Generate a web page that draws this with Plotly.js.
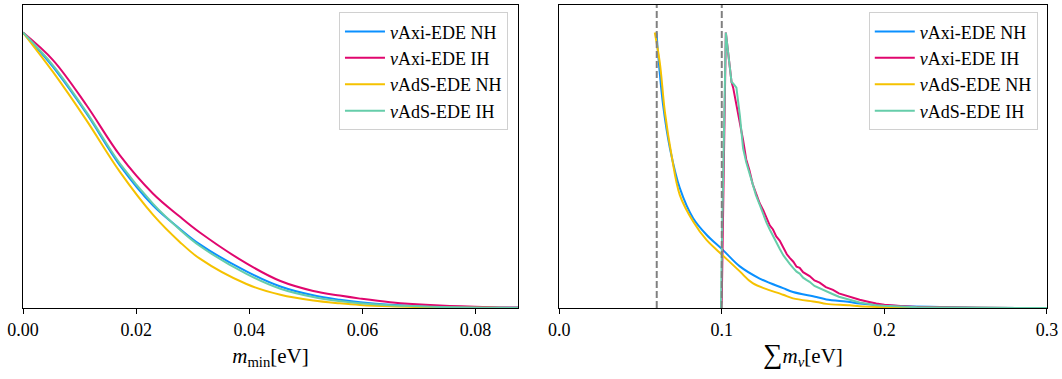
<!DOCTYPE html>
<html>
<head>
<meta charset="utf-8">
<script src="https://cdn.plot.ly/plotly-3.0.1.min.js"></script>
<style>html,body{margin:0;padding:0;background:#fff;}#chart{width:1062px;height:379px;}</style>
</head>
<body>
<div id="chart"></div>
<script>
// ---------- data ----------
const seriesNames = ["<i>ν</i>Axi-EDE NH", "<i>ν</i>Axi-EDE IH", "<i>ν</i>AdS-EDE NH", "<i>ν</i>AdS-EDE IH"];
const seriesColors = ["#0a90ff", "#e0066e", "#f5c200", "#66cdaa"];

// left panel: m_min [eV]
const mminX     = [0, 0.0053, 0.0112, 0.0171, 0.0230, 0.0277, 0.0312, 0.0395, 0.0455, 0.0513, 0.0560, 0.0596, 0.0649, 0.0737, 0.0826, 0.0875];
const mminAxiNH = [1.0, 0.875, 0.707, 0.519, 0.372, 0.288, 0.232, 0.133, 0.078, 0.046, 0.030, 0.021, 0.012, 0.005, 0.0015, 0.0008];
const mminAxiIH = [1.0, 0.900, 0.737, 0.555, 0.415, 0.332, 0.275, 0.162, 0.098, 0.062, 0.045, 0.034, 0.021, 0.009, 0.003, 0.0015];
const mminAdSNH = [1.0, 0.857, 0.682, 0.495, 0.338, 0.240, 0.180, 0.087, 0.048, 0.027, 0.017, 0.011, 0.006, 0.002, 0.0006, 0.0002];
const mminAdSIH = [1.0, 0.881, 0.712, 0.525, 0.378, 0.285, 0.226, 0.124, 0.070, 0.040, 0.025, 0.017, 0.010, 0.004, 0.001, 0.0005];

// right panel: sum m_nu [eV], normal hierarchy
const sumXAxiNH = [0.0599, 0.0609, 0.0639, 0.0681, 0.0742, 0.0824, 0.0906, 0.1008, 0.1111, 0.1233, 0.1377, 0.1438, 0.1582, 0.1643, 0.1786, 0.1847, 0.2052, 0.25, 0.3];
const sumAxiNH  = [1.0, 0.918, 0.737, 0.580, 0.435, 0.326, 0.266, 0.210, 0.151, 0.107, 0.072, 0.058, 0.040, 0.031, 0.022, 0.016, 0.008, 0.002, 0.0];
const sumXAdSNH = [0.0588, 0.0619, 0.0650, 0.0691, 0.0742, 0.0824, 0.0906, 0.1008, 0.1111, 0.1190, 0.1377, 0.1438, 0.1582, 0.1643, 0.1786, 0.1847, 0.2000, 0.2200, 0.3];
const sumAdSNH  = [1.0, 0.890, 0.712, 0.555, 0.410, 0.314, 0.247, 0.190, 0.133, 0.090, 0.048, 0.035, 0.022, 0.015, 0.010, 0.006, 0.003, 0.001, 0.0];

// right panel: inverted hierarchy
const sumXIH = [0.0995, 0.1000, 0.1025, 0.1045, 0.1060, 0.1070, 0.1090, 0.1111, 0.1131, 0.1150, 0.1170, 0.1190, 0.1210, 0.1233, 0.1255, 0.1275, 0.1295, 0.1315, 0.1335, 0.1356, 0.1380, 0.1400, 0.1418, 0.1440, 0.1460, 0.1479, 0.1500, 0.1520, 0.1540, 0.1570, 0.1602, 0.1640, 0.1684, 0.1720, 0.1766, 0.1800, 0.1848, 0.1900, 0.1950, 0.2000, 0.2052, 0.2100, 0.2200, 0.2300, 0.2400, 0.2500, 0.2600, 0.3000];
const sumAxiIH = [0.0, 0.03, 1.0, 0.90, 0.82, 0.80, 0.74, 0.68, 0.61, 0.54, 0.50, 0.45, 0.42, 0.38, 0.355, 0.33, 0.30, 0.285, 0.26, 0.245, 0.215, 0.195, 0.182, 0.168, 0.150, 0.146, 0.130, 0.122, 0.116, 0.100, 0.092, 0.076, 0.066, 0.053, 0.044, 0.039, 0.030, 0.023, 0.016, 0.012, 0.009, 0.007, 0.004, 0.003, 0.002, 0.001, 0.0005, 0.0];
const sumAdSIH = [0.0, 0.20, 1.0, 0.89, 0.82, 0.815, 0.80, 0.70, 0.58, 0.53, 0.49, 0.45, 0.41, 0.375, 0.34, 0.31, 0.285, 0.26, 0.24, 0.215, 0.19, 0.172, 0.160, 0.145, 0.132, 0.125, 0.110, 0.102, 0.095, 0.080, 0.071, 0.060, 0.050, 0.041, 0.033, 0.028, 0.020, 0.015, 0.010, 0.008, 0.006, 0.005, 0.003, 0.002, 0.001, 0.001, 0.0005, 0.0];

// vertical reference lines (minimal sums NH / IH)
const thresholds = [0.06, 0.1];

// ---------- traces ----------
const FONT = "Liberation Serif, Times New Roman, serif";
function tr(x, y, i, xa, ya, leg, shape) {
  return {x: x, y: y, type: "scatter", mode: "lines", name: seriesNames[i],
    line: {color: seriesColors[i], width: 2, shape: shape},
    xaxis: xa, yaxis: ya, legend: leg, hoverinfo: "skip"};
}
const traces = [
  tr(mminX, mminAxiNH, 0, "x", "y", "legend", "spline"),
  tr(mminX, mminAxiIH, 1, "x", "y", "legend", "spline"),
  tr(mminX, mminAdSNH, 2, "x", "y", "legend", "spline"),
  tr(mminX, mminAdSIH, 3, "x", "y", "legend", "spline"),
  tr(sumXAxiNH, sumAxiNH, 0, "x2", "y2", "legend2", "spline"),
  tr(sumXIH, sumAxiIH, 1, "x2", "y2", "legend2", "linear"),
  tr(sumXAdSNH, sumAdSNH, 2, "x2", "y2", "legend2", "spline"),
  tr(sumXIH, sumAdSIH, 3, "x2", "y2", "legend2", "linear")
];

const shapes = thresholds.map(t => ({type: "line", xref: "x2", yref: "y2 domain", x0: t, x1: t, y0: 0, y1: 1,
  line: {color: "#808080", width: 2, dash: "7px,3px"}}));

const axBase = {showgrid: false, zeroline: false, showline: true, mirror: true, linecolor: "#000", linewidth: 1};
const xBase = Object.assign({}, axBase, {ticks: "outside", ticklen: 5, tickwidth: 1, tickcolor: "#000",
  tickfont: {family: FONT, size: 18, color: "#000"}, title: {standoff: 9, font: {family: FONT, size: 21, color: "#000"}}});
const yBase = Object.assign({}, axBase, {showticklabels: false, ticks: "", range: [0, 1.1]});
const legBase = {xref: "paper", yref: "paper", xanchor: "right", yanchor: "top", y: 0.976,
  bgcolor: "rgba(255,255,255,0.8)", bordercolor: "#d0d0d0", borderwidth: 1, itemwidth: 40,
  font: {family: FONT, size: 18, color: "#000"}};

const layout = {
  width: 1062, height: 379,
  margin: {l: 23, r: 15, t: 5, b: 71},
  paper_bgcolor: "#fff", plot_bgcolor: "#fff",
  font: {family: FONT, color: "#000"},
  showlegend: true,
  xaxis: Object.assign({}, xBase, {domain: [0, 0.4834], range: [0, 0.0875], tick0: 0, dtick: 0.02, tickformat: ".2f",
    title: Object.assign({}, xBase.title, {text: "<i>m</i><sub>min</sub>[eV]"})}),
  yaxis: Object.assign({}, yBase, {anchor: "x"}),
  xaxis2: Object.assign({}, xBase, {domain: [0.5236, 1], range: [0, 0.3], tick0: 0, dtick: 0.1, tickformat: ".1f", anchor: "y2",
    title: Object.assign({}, xBase.title, {text: "<span style=\"font-size:27px\">∑</span><i>m</i><sub><i>ν</i></sub>[eV]"})}),
  yaxis2: Object.assign({}, yBase, {anchor: "x2"}),
  legend: Object.assign({}, legBase, {x: 0.4736}),
  legend2: Object.assign({}, legBase, {x: 0.991}),
  shapes: shapes
};

Plotly.newPlot("chart", traces, layout, {staticPlot: true, displayModeBar: false});
</script>
</body>
</html>
